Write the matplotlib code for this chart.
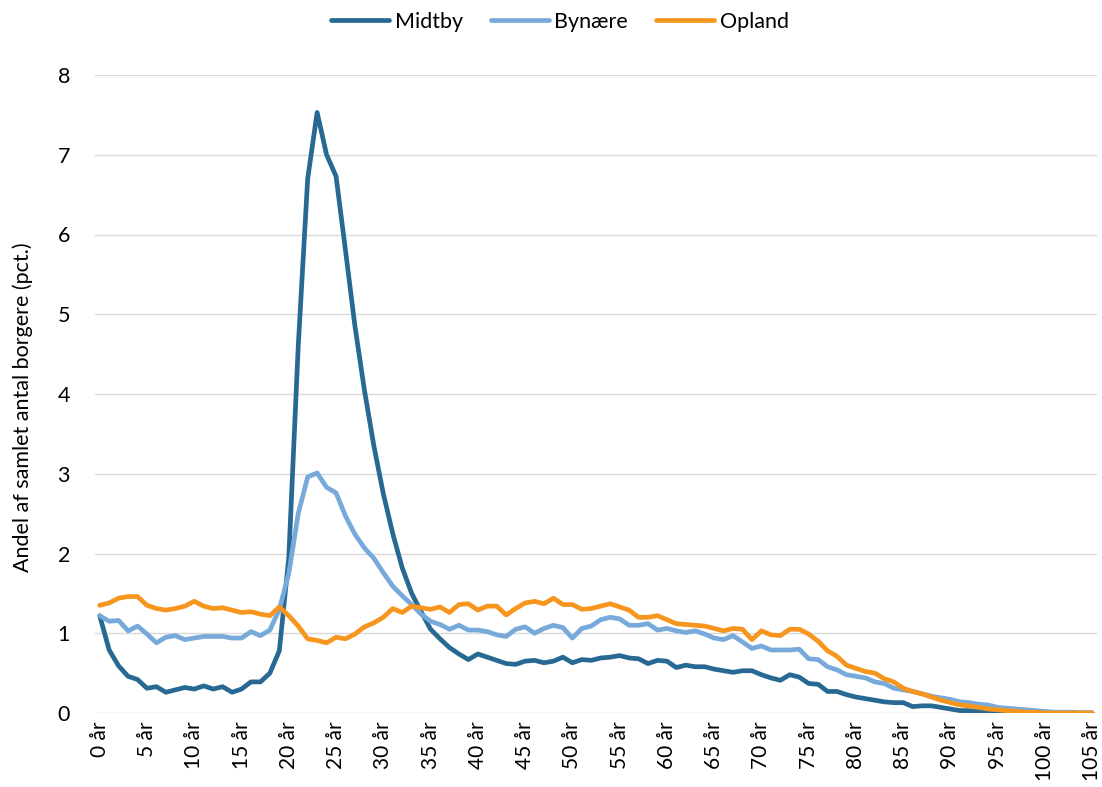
import matplotlib
matplotlib.use('Agg')
import matplotlib.pyplot as plt

plt.rcParams.update({
    'font.family': ['Lato', 'DejaVu Sans'],
    'font.size': 15.5,
})

# Alder 0..105 år
ages = list(range(0, 106))
tick_ages = list(range(0, 106, 5))
tick_labels = [f'{a} år' for a in tick_ages]

midtby = [
    1.22, 0.79, 0.59, 0.46, 0.42, 0.31, 0.33, 0.26, 0.29, 0.32,
    0.30, 0.34, 0.30, 0.33, 0.26, 0.30, 0.39, 0.39, 0.50, 0.78,
    1.95, 4.60, 6.70, 7.53, 7.00, 6.73, 5.80, 4.85, 4.05, 3.35,
    2.75, 2.25, 1.82, 1.50, 1.27, 1.05, 0.93, 0.82, 0.74, 0.67,
    0.74, 0.70, 0.66, 0.62, 0.61, 0.65, 0.66, 0.63, 0.65, 0.70,
    0.63, 0.67, 0.66, 0.69, 0.70, 0.72, 0.69, 0.68, 0.62, 0.66,
    0.65, 0.57, 0.60, 0.58, 0.58, 0.55, 0.53, 0.51, 0.53, 0.53,
    0.48, 0.44, 0.41, 0.48, 0.45, 0.37, 0.36, 0.27, 0.27, 0.23,
    0.20, 0.18, 0.16, 0.14, 0.13, 0.13, 0.08, 0.09, 0.09, 0.07,
    0.05, 0.03, 0.03, 0.02, 0.01, 0.01, 0.01, 0.00, 0.00, 0.00,
    0.00, 0.00, 0.00, 0.00, 0.00, 0.00,
]

bynaere = [
    1.22, 1.15, 1.16, 1.03, 1.09, 0.99, 0.88, 0.95, 0.97, 0.92,
    0.94, 0.96, 0.96, 0.96, 0.94, 0.94, 1.02, 0.97, 1.04, 1.30,
    1.75, 2.50, 2.96, 3.01, 2.83, 2.76, 2.47, 2.24, 2.07, 1.94,
    1.76, 1.59, 1.47, 1.36, 1.24, 1.15, 1.11, 1.05, 1.10, 1.04,
    1.04, 1.02, 0.98, 0.96, 1.05, 1.08, 1.00, 1.06, 1.10, 1.07,
    0.94, 1.06, 1.09, 1.17, 1.20, 1.18, 1.10, 1.10, 1.12, 1.04,
    1.06, 1.03, 1.01, 1.03, 0.99, 0.94, 0.92, 0.97, 0.89, 0.81,
    0.84, 0.79, 0.79, 0.79, 0.80, 0.68, 0.67, 0.58, 0.54, 0.48,
    0.46, 0.44, 0.39, 0.37, 0.31, 0.29, 0.27, 0.24, 0.21, 0.19,
    0.17, 0.14, 0.13, 0.11, 0.10, 0.07, 0.06, 0.05, 0.04, 0.03,
    0.02, 0.01, 0.01, 0.01, 0.00, 0.00,
]

opland = [
    1.35, 1.38, 1.44, 1.46, 1.46, 1.35, 1.31, 1.29, 1.31, 1.34,
    1.40, 1.34, 1.31, 1.32, 1.29, 1.26, 1.27, 1.24, 1.22, 1.33,
    1.22, 1.09, 0.93, 0.91, 0.88, 0.95, 0.93, 0.99, 1.08, 1.13,
    1.20, 1.31, 1.26, 1.34, 1.32, 1.30, 1.33, 1.26, 1.36, 1.37,
    1.29, 1.34, 1.34, 1.23, 1.31, 1.38, 1.40, 1.37, 1.44, 1.36,
    1.36, 1.30, 1.31, 1.34, 1.37, 1.33, 1.29, 1.20, 1.20, 1.22,
    1.17, 1.12, 1.11, 1.10, 1.09, 1.06, 1.03, 1.06, 1.05, 0.92,
    1.03, 0.98, 0.97, 1.05, 1.05, 0.99, 0.90, 0.78, 0.71, 0.60,
    0.56, 0.52, 0.50, 0.43, 0.39, 0.31, 0.27, 0.24, 0.20, 0.16,
    0.13, 0.10, 0.09, 0.07, 0.05, 0.04, 0.03, 0.02, 0.01, 0.01,
    0.00, 0.00, 0.00, 0.00, 0.00, 0.00,
]

series = [
    ('Midtby', midtby, '#286993'),
    ('Bynære', bynaere, '#77AADA'),
    ('Opland', opland, '#F7961E'),
]

fig = plt.figure(figsize=(11.02, 7.87), dpi=100)
ax = fig.add_axes([95 / 1102, 74 / 787, 1002 / 1102, 638 / 787])

for name, vals, col in series:
    ax.plot(ages, vals, color=col, linewidth=3.4, label=name,
            solid_joinstyle='round', solid_capstyle='round', zorder=3)

ax.set_xlim(-0.5, 105.5)
ax.set_ylim(0, 8)
ax.set_yticks(range(0, 9))
ax.set_xticks(tick_ages)
ax.set_xticklabels(tick_labels, rotation=90, ha='center', va='top', fontsize=15)

ax.grid(axis='y', color='#D9D9D9', linewidth=1.0, zorder=0)
for s in ax.spines.values():
    s.set_visible(False)
ax.tick_params(axis='both', length=0, colors='#000000')
ax.tick_params(axis='x', pad=6)
ax.tick_params(axis='y', pad=18)

ax.set_ylabel('Andel af samlet antal borgere (pct.)')
ax.yaxis.set_label_coords(-0.062, 0.48)

fig.legend(loc='center', bbox_to_anchor=(560 / 1102, 1 - 22 / 787), ncol=3,
           frameon=False, handlelength=2.7, handletextpad=0.25,
           columnspacing=1.3, borderaxespad=0)

fig.savefig('out.png', dpi=100)
